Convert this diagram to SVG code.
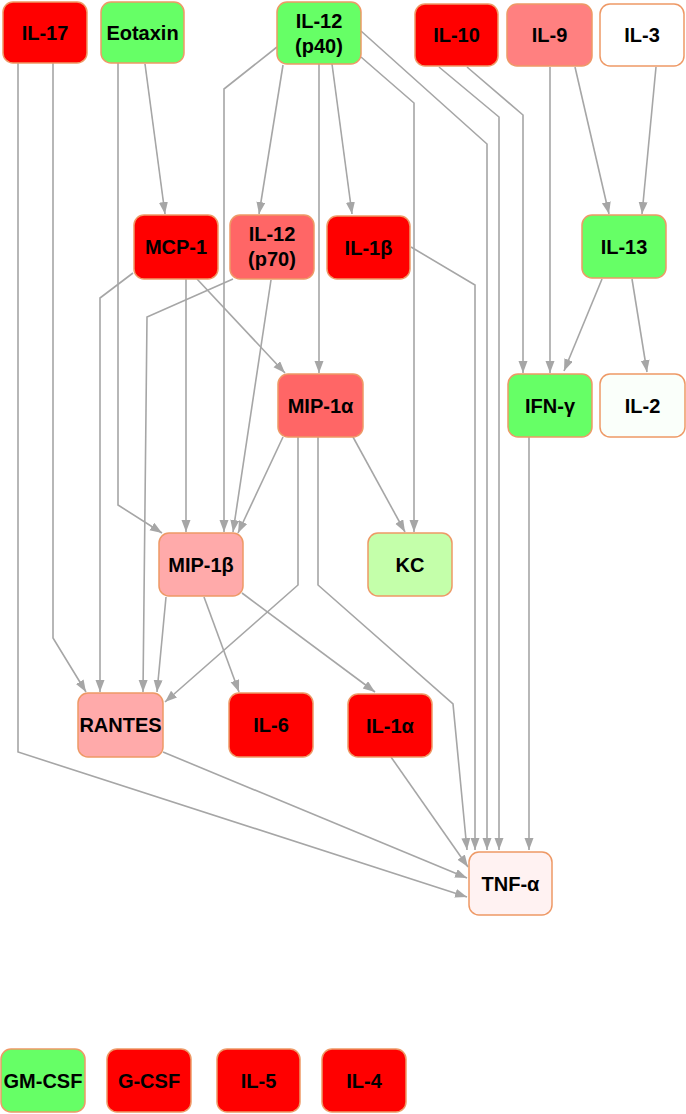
<svg xmlns="http://www.w3.org/2000/svg" width="686" height="1114" viewBox="0 0 686 1114">
<style>
.n{stroke:#EE9966;stroke-width:1.5}
.t{font-family:"Liberation Sans",Arial,sans-serif;font-weight:bold;font-size:20px;fill:#000;text-anchor:middle}
.e{fill:none;stroke:#A6A6A6;stroke-width:1.6;marker-end:url(#a)}
.r{fill:#FF0000}.g{fill:#66FF66}
</style>
<defs>
<marker id="a" markerUnits="userSpaceOnUse" markerWidth="12" markerHeight="10" refX="12" refY="4.5" orient="auto">
<path d="M0,0 L12,4.5 L0,9 z" fill="#A6A6A6"/>
</marker>
</defs>
<g id="edges">
<path class="e" d="M18,63 L18,752 L467,897"/>
<path class="e" d="M53,63 L53,638 L86,692"/>
<path class="e" d="M118,63 L118,505 L162,533"/>
<path class="e" d="M145,64 L165,214"/>
<path class="e" d="M277,47 L224,89 L224,532"/>
<path class="e" d="M283,65 L259,214"/>
<path class="e" d="M319,64 L319,373"/>
<path class="e" d="M332,64 L352,214"/>
<path class="e" d="M361,31 L487,144 L487,850"/>
<path class="e" d="M361,57 L414,103 L414,532"/>
<path class="e" d="M439,67 L499,117 L499,850"/>
<path class="e" d="M467,67 L523,115 L523,373"/>
<path class="e" d="M550,67 L550,373"/>
<path class="e" d="M575,67 L609,214"/>
<path class="e" d="M656,67 L642,214"/>
<path class="e" d="M602,279 L564,371"/>
<path class="e" d="M632,279 L647,372"/>
<path class="e" d="M529,437 L529,850"/>
<path class="e" d="M411,247 L475,285 L475,850"/>
<path class="e" d="M133,273 L100,298 L100,692"/>
<path class="e" d="M186,279 L186,532"/>
<path class="e" d="M197,279 L285,373"/>
<path class="e" d="M233,279 L147,317 L143,692"/>
<path class="e" d="M271,280 L233,532"/>
<path class="e" d="M283,437 L238,533"/>
<path class="e" d="M353,437 L405,532"/>
<path class="e" d="M298,437 L298,585 L165,702"/>
<path class="e" d="M318,437 L318,585 L453,704 L467,850"/>
<path class="e" d="M166,597 L157,692"/>
<path class="e" d="M204,597 L239,692"/>
<path class="e" d="M242,593 L375,692"/>
<path class="e" d="M163,752 L467,878"/>
<path class="e" d="M391,757 L468,867"/>
</g>
<g id="IL-17"><rect class="n r" x="3" y="2" width="84" height="61" rx="10"/><text class="t" x="45" y="40">IL-17</text></g>
<g id="Eotaxin"><rect class="n g" x="101" y="2" width="83" height="61" rx="10"/><text class="t" x="142.5" y="40">Eotaxin</text></g>
<g id="IL-12p40"><rect class="n g" x="277" y="2" width="84" height="62" rx="10"/><text class="t" x="319" y="28">IL-12</text><text class="t" x="319" y="53">(p40)</text></g>
<g id="IL-10"><rect class="n r" x="415" y="4" width="83" height="62" rx="10"/><text class="t" x="456.5" y="42">IL-10</text></g>
<g id="IL-9"><rect class="n" fill="#FF8080" x="507" y="4" width="85" height="62" rx="10"/><text class="t" x="549.5" y="42">IL-9</text></g>
<g id="IL-3"><rect class="n" fill="#FFFFFF" x="600" y="4" width="84" height="62" rx="10"/><text class="t" x="642" y="42">IL-3</text></g>
<g id="MCP-1"><rect class="n r" x="134" y="215" width="84" height="64" rx="10"/><text class="t" x="176" y="254">MCP-1</text></g>
<g id="IL-12p70"><rect class="n" fill="#FF6666" x="230" y="215" width="84" height="64" rx="10"/><text class="t" x="272" y="241">IL-12</text><text class="t" x="272" y="266">(p70)</text></g>
<g id="IL-1b"><rect class="n r" x="327" y="216" width="83" height="63" rx="10"/><text class="t" x="368.5" y="254.5">IL-1β</text></g>
<g id="IL-13"><rect class="n g" x="582" y="215" width="84" height="63" rx="10"/><text class="t" x="624" y="253.5">IL-13</text></g>
<g id="MIP-1a"><rect class="n" fill="#FF6666" x="278" y="374" width="85" height="63" rx="10"/><text class="t" x="320.5" y="412.5">MIP-1α</text></g>
<g id="IFN-g"><rect class="n g" x="508" y="374" width="84" height="63" rx="10"/><text class="t" x="550" y="412.5">IFN-γ</text></g>
<g id="IL-2"><rect class="n" fill="#FAFFFA" x="600" y="374" width="85" height="63" rx="10"/><text class="t" x="642.5" y="412.5">IL-2</text></g>
<g id="MIP-1b"><rect class="n" fill="#FFAAAA" x="159" y="533" width="84" height="63" rx="10"/><text class="t" x="201" y="571.5">MIP-1β</text></g>
<g id="KC"><rect class="n" fill="#C4FFAA" x="368" y="533" width="84" height="63" rx="10"/><text class="t" x="410" y="571.5">KC</text></g>
<g id="RANTES"><rect class="n" fill="#FFAAAA" x="78" y="693" width="85" height="64" rx="10"/><text class="t" x="120.5" y="732">RANTES</text></g>
<g id="IL-6"><rect class="n r" x="229" y="693" width="84" height="64" rx="10"/><text class="t" x="271" y="732">IL-6</text></g>
<g id="IL-1a"><rect class="n r" x="348" y="694" width="84" height="63" rx="10"/><text class="t" x="390" y="732.5">IL-1α</text></g>
<g id="TNF-a"><rect class="n" fill="#FFF2F2" x="469" y="852" width="83" height="63" rx="10"/><text class="t" x="510.5" y="890.5">TNF-α</text></g>
<g id="GM-CSF"><rect class="n g" x="1" y="1049" width="84" height="63" rx="10"/><text class="t" x="43" y="1087.5">GM-CSF</text></g>
<g id="G-CSF"><rect class="n r" x="107" y="1049" width="84" height="63" rx="10"/><text class="t" x="149" y="1087.5">G-CSF</text></g>
<g id="IL-5"><rect class="n r" x="217" y="1049" width="83" height="63" rx="10"/><text class="t" x="258.5" y="1087.5">IL-5</text></g>
<g id="IL-4"><rect class="n r" x="322" y="1049" width="84" height="63" rx="10"/><text class="t" x="364" y="1087.5">IL-4</text></g>
</svg>
